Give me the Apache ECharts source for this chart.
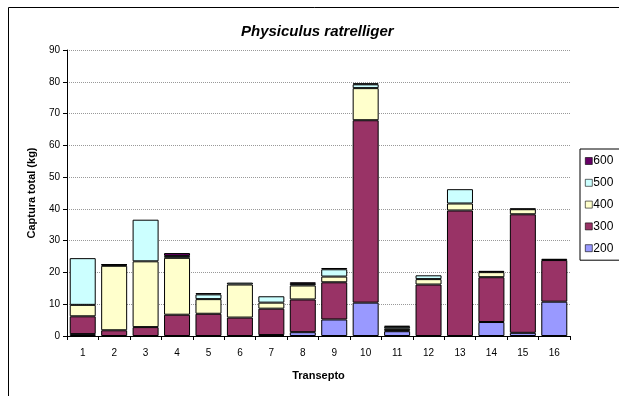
<!DOCTYPE html>
<html>
<head>
<meta charset="utf-8">
<script src="https://cdn.jsdelivr.net/npm/echarts@6/dist/echarts.min.js"></script>
<style>
  html, body { margin: 0; padding: 0; background: #fff; }
  #container { width: 619px; height: 396px; }
</style>
</head>
<body>
<div id="container"></div>
<script>
// 横坐标：断面编号
const transectos = ['1', '2', '3', '4', '5', '6', '7', '8', '9', '10', '11', '12', '13', '14', '15', '16'];
// 各深度层的捕获量 (kg)
const d200 = [0.6, 0, 0, 0, 0, 0, 0.3, 1.2, 5.2, 10.5, 1.5, 0, 0, 4.4, 1.0, 10.8];
const d300 = [5.6, 1.8, 2.8, 6.7, 7.0, 5.8, 8.3, 10.3, 11.7, 57.4, 0.3, 16.2, 39.5, 14.1, 37.3, 13.1];
const d400 = [3.6, 20.3, 20.7, 17.9, 4.6, 10.4, 1.9, 4.4, 1.8, 10.1, 0.5, 1.7, 2.2, 1.6, 1.6, 0];
const d500 = [14.7, 0.3, 13.1, 0.6, 1.5, 0.6, 2.0, 0.5, 2.3, 1.2, 0.6, 1.2, 4.5, 0, 0, 0];
const d600 = [0, 0.2, 0, 0.9, 0.4, 0, 0, 0.5, 0.4, 0.3, 0.3, 0, 0, 0.4, 0.2, 0.4];
const seriesNames = ['200', '300', '400', '500', '600'];
const seriesColors = ['#9999FF', '#993366', '#FFFFCC', '#CCFFFF', '#660066'];
const yTicks = [0, 10, 20, 30, 40, 50, 60, 70, 80, 90];

const font = 'Liberation Sans, Arial, sans-serif';
const dom = document.getElementById('container');
const myChart = echarts.init(dom, null, { renderer: 'canvas' });

const allData = [d200, d300, d400, d500, d600];

const option = {
  animation: false,
  backgroundColor: '#fff',
  title: {
    text: 'Physiculus ratrelliger',
    left: 236,
    top: 19,
    textStyle: { fontFamily: font, fontSize: 15, fontWeight: 'bold', fontStyle: 'italic', color: '#000' }
  },
  legend: {
    orient: 'vertical',
    left: 580,
    top: 149,
    data: seriesNames.slice().reverse(),
    icon: 'rect',
    itemWidth: 7,
    itemHeight: 7,
    itemGap: 9.8,
    padding: [6, 12, 6, 5],
    borderColor: '#000',
    borderWidth: 1,
    itemStyle: { borderWidth: 0.6, borderColor: '#000' },
    textStyle: { fontFamily: font, fontSize: 12, color: '#000', padding: [0, 0, 0, -4] }
  },
  grid: {
    left: 67,
    right: 49,
    top: 50,
    bottom: 60,
    containLabel: false
  },
  xAxis: {
    type: 'category',
    data: transectos,
    name: 'Transepto',
    nameLocation: 'middle',
    nameGap: 34,
    nameTextStyle: { fontFamily: font, fontSize: 11, fontWeight: 'bold', color: '#000' },
    axisLine: { lineStyle: { color: '#000', width: 1 } },
    axisTick: { show: true, length: 4, alignWithLabel: false, lineStyle: { color: '#000' } },
    axisLabel: { fontFamily: font, fontSize: 10, color: '#000', margin: 12 },
    splitLine: { show: false }
  },
  yAxis: {
    type: 'value',
    min: yTicks[0],
    max: yTicks[yTicks.length - 1],
    interval: 10,
    name: 'Captura total (kg)',
    nameLocation: 'middle',
    nameGap: 30,
    nameTextStyle: { fontFamily: font, fontSize: 11, fontWeight: 'bold', color: '#000' },
    axisLine: { show: true, lineStyle: { color: '#000', width: 1 } },
    axisTick: { show: true, length: 4, lineStyle: { color: '#000' } },
    axisLabel: { fontFamily: font, fontSize: 10, color: '#000', margin: 7 },
    splitLine: { show: true, lineStyle: { color: '#999', width: 1, type: [1, 1] } }
  },
  series: seriesNames.map((name, i) => ({
    name: name,
    type: 'bar',
    stack: 'total',
    barWidth: 26,
    data: allData[i].map(v => (v > 0 ? v : null)),
    itemStyle: { color: seriesColors[i], borderColor: '#000', borderWidth: 1 }
  })),
  graphic: [
    {
      type: 'rect',
      shape: { x: 8.5, y: 7.5, width: 700, height: 500 },
      style: { fill: null, stroke: '#000', lineWidth: 1 },
      silent: true
    }
  ]
};

myChart.setOption(option, true);
</script>
</body>
</html>
